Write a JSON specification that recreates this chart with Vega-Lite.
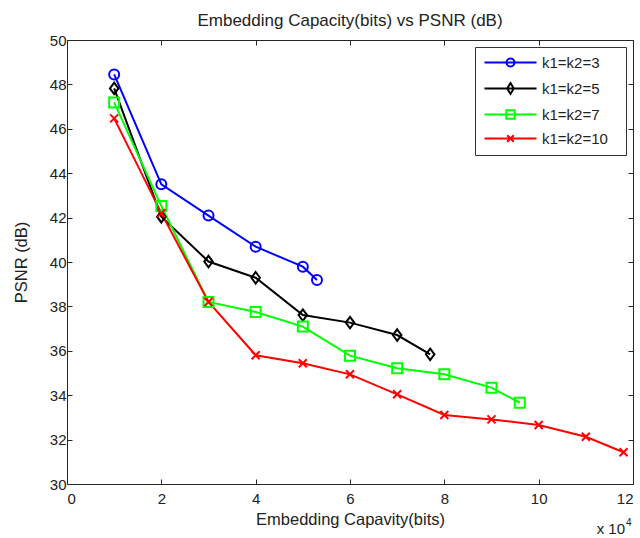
{
  "$schema": "https://vega.github.io/schema/vega-lite/v6.json",
  "width": 566,
  "height": 444,
  "autosize": {"type": "none"},
  "padding": {"left": 67, "top": 40, "right": 7, "bottom": 54},
  "background": "white",
  "title": {"text": "Embedding Capacity(bits) vs PSNR (dB)", "font": "Liberation Sans", "fontSize": 17, "fontWeight": "normal", "color": "#222222", "offset": 3},
  "config": {
    "view": {"stroke": null},
    "axis": {"labelFont": "Liberation Sans", "labelFontSize": 15, "labelColor": "#222222", "titleFont": "Liberation Sans", "titleFontSize": 16.5, "titleFontWeight": "normal", "titleColor": "#222222", "grid": false, "domainColor": "#262626", "tickColor": "#262626", "tickSize": -5, "domainWidth": 1, "tickWidth": 1}
  },
  "data": {"values": [
    {"series": "k1=k2=3", "bits": 10000, "psnr": 48.45},
    {"series": "k1=k2=3", "bits": 20000, "psnr": 43.5},
    {"series": "k1=k2=3", "bits": 30000, "psnr": 42.09},
    {"series": "k1=k2=3", "bits": 40000, "psnr": 40.69},
    {"series": "k1=k2=3", "bits": 50000, "psnr": 39.79},
    {"series": "k1=k2=3", "bits": 53000, "psnr": 39.19},
    {"series": "k1=k2=5", "bits": 10000, "psnr": 47.82},
    {"series": "k1=k2=5", "bits": 20000, "psnr": 42.04},
    {"series": "k1=k2=5", "bits": 30000, "psnr": 40.02},
    {"series": "k1=k2=5", "bits": 40000, "psnr": 39.29},
    {"series": "k1=k2=5", "bits": 50000, "psnr": 37.61},
    {"series": "k1=k2=5", "bits": 60000, "psnr": 37.27},
    {"series": "k1=k2=5", "bits": 70000, "psnr": 36.71},
    {"series": "k1=k2=5", "bits": 77000, "psnr": 35.84},
    {"series": "k1=k2=7", "bits": 10000, "psnr": 47.19},
    {"series": "k1=k2=7", "bits": 20000, "psnr": 42.52},
    {"series": "k1=k2=7", "bits": 30000, "psnr": 38.2},
    {"series": "k1=k2=7", "bits": 40000, "psnr": 37.75},
    {"series": "k1=k2=7", "bits": 50000, "psnr": 37.09},
    {"series": "k1=k2=7", "bits": 60000, "psnr": 35.78},
    {"series": "k1=k2=7", "bits": 70000, "psnr": 35.21},
    {"series": "k1=k2=7", "bits": 80000, "psnr": 34.94},
    {"series": "k1=k2=7", "bits": 90000, "psnr": 34.34},
    {"series": "k1=k2=7", "bits": 96000, "psnr": 33.66},
    {"series": "k1=k2=10", "bits": 10000, "psnr": 46.47},
    {"series": "k1=k2=10", "bits": 20000, "psnr": 42.2},
    {"series": "k1=k2=10", "bits": 30000, "psnr": 38.2},
    {"series": "k1=k2=10", "bits": 40000, "psnr": 35.8},
    {"series": "k1=k2=10", "bits": 50000, "psnr": 35.44},
    {"series": "k1=k2=10", "bits": 60000, "psnr": 34.94},
    {"series": "k1=k2=10", "bits": 70000, "psnr": 34.04},
    {"series": "k1=k2=10", "bits": 80000, "psnr": 33.11},
    {"series": "k1=k2=10", "bits": 90000, "psnr": 32.91},
    {"series": "k1=k2=10", "bits": 100000, "psnr": 32.66},
    {"series": "k1=k2=10", "bits": 110000, "psnr": 32.13},
    {"series": "k1=k2=10", "bits": 118000, "psnr": 31.43}
  ]},
  "layer": [
    {
      "mark": {"type": "line", "strokeWidth": 2},
      "encoding": {
        "x": {"field": "bits", "type": "quantitative", "scale": {"domain": [0, 120000], "nice": false, "zero": false},
              "axis": {"orient": "bottom", "values": [0, 20000, 40000, 60000, 80000, 100000, 120000], "labelExpr": "datum.value / 10000", "title": "Embedding Capavity(bits)", "labelPadding": 12, "titlePadding": 5}},
        "y": {"field": "psnr", "type": "quantitative", "scale": {"domain": [30, 50], "nice": false, "zero": false},
              "axis": {"orient": "left", "values": [30, 32, 34, 36, 38, 40, 42, 44, 46, 48, 50], "title": "PSNR (dB)", "labelPadding": 6, "titlePadding": 20}},
        "color": {"field": "series", "type": "nominal", "scale": {"domain": ["k1=k2=3", "k1=k2=5", "k1=k2=7", "k1=k2=10"], "range": ["#0000ff", "#000000", "#00ff00", "#ff0000"]}, "legend": null},
        "detail": {"field": "series"}
      }
    },
    {
      "mark": {"type": "point", "filled": false, "size": 100, "strokeWidth": 2, "opacity": 1},
      "encoding": {
        "x": {"field": "bits", "type": "quantitative", "axis": {"orient": "top", "values": [0, 20000, 40000, 60000, 80000, 100000, 120000], "labels": false, "title": null}},
        "y": {"field": "psnr", "type": "quantitative", "axis": {"orient": "right", "values": [30, 32, 34, 36, 38, 40, 42, 44, 46, 48, 50], "labels": false, "title": null}},
        "color": {"field": "series", "type": "nominal", "legend": null},
        "shape": {"field": "series", "type": "nominal", "scale": {"domain": ["k1=k2=3", "k1=k2=5", "k1=k2=7", "k1=k2=10"], "range": ["circle", "M0,-1.15L0.85,0L0,1.15L-0.85,0Z", "square", "M-0.8,-0.8L0.8,0.8M-0.8,0.8L0.8,-0.8"]}, "legend": null}
      }
    },
    {
      "mark": {"type": "point", "filled": false, "opacity": 0, "strokeWidth": 2},
      "encoding": {
        "x": {"field": "bits", "type": "quantitative", "axis": null},
        "y": {"field": "psnr", "type": "quantitative", "axis": null},
        "color": {"field": "series", "type": "nominal",
                  "legend": {"orient": "top-right", "offset": 7, "title": "\u00a0", "titleOrient": "right", "titlePadding": 10, "titleFontSize": 15, "fillColor": "white", "strokeColor": "#333333", "padding": 8, "rowPadding": 8, "labelFont": "Liberation Sans", "labelFontSize": 15, "labelColor": "#222222", "symbolSize": 36, "symbolStrokeWidth": 2, "symbolOffset": 20, "labelOffset": 24, "symbolOpacity": 1}},
        "shape": {"field": "series", "type": "nominal", "scale": {"domain": ["k1=k2=3", "k1=k2=5", "k1=k2=7", "k1=k2=10"], "range": [
          "M-8.67,0H8.67M-1.33,0A1.33,1.33 0 1,0 1.33,0A1.33,1.33 0 1,0 -1.33,0",
          "M-8.67,0H8.67M0,-1.8L1.1,0L0,1.8L-1.1,0Z",
          "M-8.67,0H8.67M-1.4,-1.4H1.4V1.4H-1.4Z",
          "M-8.67,0H8.67M-1.1,-1.1L1.1,1.1M-1.1,1.1L1.1,-1.1"
        ]},
                  "legend": {"orient": "top-right", "offset": 7, "title": "\u00a0", "titleOrient": "right", "titlePadding": 10, "titleFontSize": 15, "fillColor": "white", "strokeColor": "#333333", "padding": 8, "rowPadding": 8, "labelFont": "Liberation Sans", "labelFontSize": 15, "labelColor": "#222222", "symbolSize": 36, "symbolStrokeWidth": 2, "symbolOffset": 20, "labelOffset": 24, "symbolOpacity": 1}}
      }
    },
    {
      "data": {"values": [{"label": "x 10"}]},
      "mark": {"type": "text", "align": "right", "baseline": "alphabetic", "dx": -8, "dy": 50, "font": "Liberation Sans", "fontSize": 15, "color": "#222222"},
      "encoding": {
        "x": {"datum": 120000, "axis": null},
        "y": {"datum": 30, "axis": null},
        "text": {"field": "label"}
      }
    },
    {
      "data": {"values": [{"label": "4"}]},
      "mark": {"type": "text", "align": "left", "baseline": "alphabetic", "dx": -7, "dy": 42, "font": "Liberation Sans", "fontSize": 10, "color": "#222222"},
      "encoding": {
        "x": {"datum": 120000, "axis": null},
        "y": {"datum": 30, "axis": null},
        "text": {"field": "label"}
      }
    }
  ],
  "resolve": {"scale": {"shape": "independent"}, "axis": {"x": "independent", "y": "independent"}, "legend": {"color": "independent", "shape": "independent"}}
}
